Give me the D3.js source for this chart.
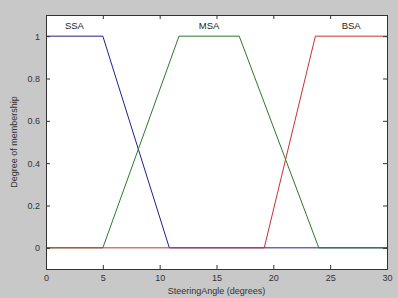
<!DOCTYPE html>
<html><head><meta charset="utf-8">
<script src="https://cdn.jsdelivr.net/npm/d3@7"></script>
<style>body{margin:0;background:#c8c8c8;}svg{display:block;font-family:Arial,"Liberation Sans",sans-serif;}</style>
</head><body>
<svg id="c" width="398" height="298"></svg>
<script>
const mfNames = ["SSA", "MSA", "BSA"];
const mfX = [[0, 5, 10.85], [5, 11.7, 17, 24], [19.2, 23.7, 30]];
const mfY = [[1, 1, 0], [0, 1, 1, 0], [0, 1, 1]];
const mfColors = ["#20208a", "#2a7a2a", "#c83232"];
const xTicks = [0, 5, 10, 15, 20, 25, 30];
const yTicks = [0, 0.2, 0.4, 0.6, 0.8, 1];
const xLabel = "SteeringAngle (degrees)";
const yLabel = "Degree of membership";

const svg = d3.select("#c");
const L = 46, R = 387, T = 15, B = 269;
const x = d3.scaleLinear().domain([0, 30]).range([L, R]);
const y = d3.scaleLinear().domain([-0.1, 1.1]).range([B, T]);

svg.append("rect").attr("x", L).attr("y", T).attr("width", R - L).attr("height", B - T).attr("fill", "#fff");

// build full curves over domain 0..30
const curves = mfX.map((xs, i) => {
  const pts = xs.map((v, j) => [v, mfY[i][j]]);
  if (pts[0][0] > 0) pts.unshift([0, pts[0][1]]);
  if (pts[pts.length - 1][0] < 30) pts.push([30, pts[pts.length - 1][1]]);
  return pts;
});
const line = d3.line().x(d => x(d[0])).y(d => y(d[1]));
curves.forEach((pts, i) => {
  svg.append("path").attr("d", line(pts)).attr("fill", "none")
    .attr("stroke", mfColors[i]).attr("stroke-width", 1);
});

// labels
const tops = [[0, 5], [11.7, 17], [23.7, 30]];
mfNames.forEach((n, i) => {
  svg.append("text").attr("x", x((tops[i][0] + tops[i][1]) / 2 - (i === 0 ? 0 : 0)))
    .attr("y", y(1.035)).attr("text-anchor", "middle").attr("font-size", 9.5)
    .attr("fill", "#222").text(n);
});

// axes
const ax = svg.append("g").attr("font-size", 9).attr("fill", "#333");
const axB = d3.axisBottom(x).tickValues(xTicks).tickSize(-4).tickPadding(6).tickFormat(d3.format("d"));
const axT = d3.axisTop(x).tickValues(xTicks).tickSize(-4).tickFormat("");
const axL = d3.axisLeft(y).tickValues(yTicks).tickSize(-4).tickPadding(6).tickFormat(d => d === 0 ? "0" : d === 1 ? "1" : d3.format(".1f")(d));
const axR = d3.axisRight(y).tickValues(yTicks).tickSize(-4).tickFormat("");
[[axB, `translate(0,${B})`], [axT, `translate(0,${T})`], [axL, `translate(${L},0)`], [axR, `translate(${R},0)`]].forEach(([a, t]) => {
  const g = svg.append("g").attr("transform", t).call(a);
  g.select(".domain").attr("stroke", "#333");
  g.selectAll(".tick line").attr("stroke", "#333");
  g.selectAll("text").attr("fill", "#333").attr("font-size", 9).attr("font-family", "Arial,'Liberation Sans',sans-serif");
});

svg.append("text").attr("x", (L + R) / 2).attr("y", 294).attr("text-anchor", "middle")
  .attr("font-size", 9).attr("fill", "#333").text(xLabel);
svg.append("text").attr("transform", `translate(17,${(T + B) / 2}) rotate(-90)`).attr("text-anchor", "middle")
  .attr("font-size", 9).attr("fill", "#333").text(yLabel);
</script>
</body></html>
